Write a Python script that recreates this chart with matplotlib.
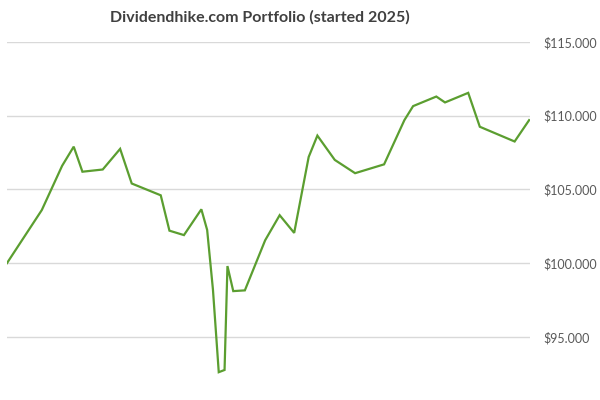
import matplotlib.pyplot as plt
from matplotlib.ticker import FuncFormatter

# days since start and portfolio value in $
days = [0, 12, 19, 23, 26, 33, 39, 43, 53, 56, 61, 67, 69, 71, 73, 75, 76, 78, 82,
        89, 94, 99, 104, 107, 113, 120, 130, 137, 140, 148, 151, 159, 163, 175, 180]
values = [100000, 103600, 106600, 107900, 106200, 106350, 107750, 105400, 104600,
          102200, 101900, 103650, 102250, 98200, 92600, 92750, 99800, 98100, 98150,
          101550, 103250, 102050, 107200, 108650, 107000, 106100, 106700, 109700,
          110650, 111300, 110900, 111550, 109250, 108250, 109700]
yticks = [95000, 100000, 105000, 110000, 115000]

plt.rcParams['font.family'] = ['Lato', 'DejaVu Sans']

fig = plt.figure(figsize=(6, 4), dpi=100)
ax = fig.add_axes([7/600, 0.029, 523/600, 0.866])

ax.plot(days, values, color='#5B9E30', lw=1.6, solid_joinstyle='miter')

ax.set_xlim(0, 180.3)
ax.set_ylim(91500, 115000)
ax.set_yticks(yticks)
ax.yaxis.set_major_formatter(FuncFormatter(lambda v, p: '$' + f'{int(v):,}'.replace(',', '.')))
ax.yaxis.tick_right()
ax.tick_params(axis='y', length=0, pad=10, labelsize=9, labelcolor='#595959')
ax.set_xticks([])
ax.grid(axis='y', color='#d9d9d9', lw=1)
ax.set_axisbelow(True)
for s in ax.spines.values():
    s.set_visible(False)

fig.text(260/600, 1 - 17/400, 'Dividendhike.com Portfolio (started 2025)',
         ha='center', va='center', fontsize=11.5, fontweight='bold', color='#404040')

fig.savefig('out.png')
